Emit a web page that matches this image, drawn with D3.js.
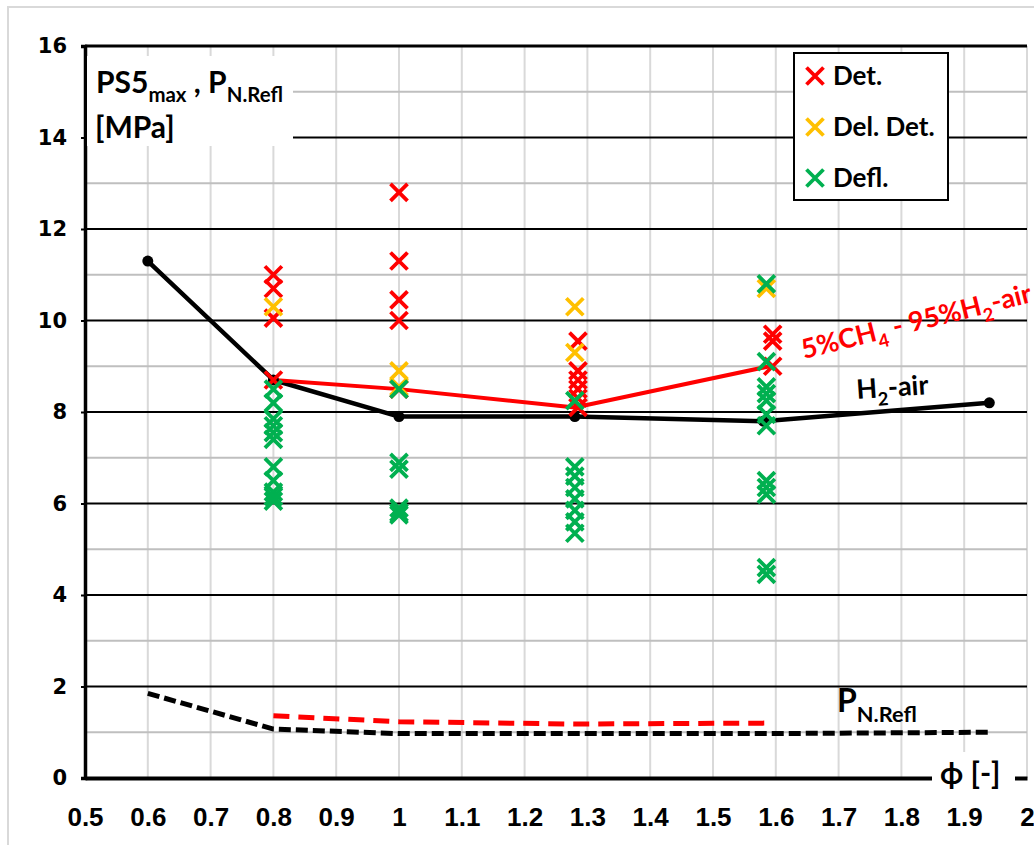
<!DOCTYPE html>
<html>
<head>
<meta charset="utf-8">
<script src="https://cdn.jsdelivr.net/npm/d3@7"></script>
<style>
  html, body { margin: 0; padding: 0; background: #fff; }
  svg { display: block; }
</style>
</head>
<body>
<div id="chart"></div>
<script>
// equivalence ratio ticks and pressure ticks
const phiTicks = d3.range(5, 21).map(d => d / 10);
const pTicks = d3.range(0, 17, 2);
const pMinor = d3.range(1, 16, 2);

// H2-air : peak pressure and normal reflected pressure
const h2Phi = [0.6, 0.8, 1.0, 1.28, 1.58, 1.94];
const h2Peak = [11.3, 8.7, 7.9, 7.9, 7.8, 8.2];
const h2Refl = [1.85, 1.07, 0.97, 0.97, 0.97, 1.0];

// 5%CH4 - 95%H2-air
const mixPhi = [0.8, 1.0, 1.28, 1.59];
const mixPeak = [8.7, 8.5, 8.1, 9.0];
const mixRefl = [1.36, 1.23, 1.18, 1.2];

// single shots [phi, PS5max]
const detPoints = [
  [0.8, 11.0], [0.8, 10.7], [0.8, 10.05], [0.8, 8.7],
  [1.0, 12.8], [1.0, 11.3], [1.0, 10.45], [1.0, 10.0], [1.0, 8.5],
  [1.285, 9.55], [1.285, 8.9], [1.285, 8.7], [1.285, 8.5], [1.285, 8.3], [1.285, 8.1],
  [1.595, 9.7], [1.595, 9.55], [1.595, 9.0]
];
const delDetPoints = [
  [0.8, 10.3], [1.0, 8.9], [1.0, 8.55], [1.28, 10.3], [1.28, 9.3], [1.585, 10.7]
];
const deflPoints = [
  [0.8, 8.5], [0.8, 8.2], [0.8, 7.85], [0.8, 7.7], [0.8, 7.55], [0.8, 7.4],
  [0.8, 6.8], [0.8, 6.5], [0.8, 6.25], [0.8, 6.15], [0.8, 6.05],
  [1.0, 8.5], [1.0, 6.9], [1.0, 6.75], [1.0, 5.9], [1.0, 5.8], [1.0, 5.75],
  [1.28, 8.25], [1.28, 6.8], [1.28, 6.6], [1.28, 6.35], [1.28, 6.1], [1.28, 5.85], [1.28, 5.6], [1.28, 5.35],
  [1.585, 10.8], [1.585, 9.1], [1.585, 8.55], [1.585, 8.4], [1.585, 8.25], [1.585, 7.95], [1.585, 7.7],
  [1.585, 6.5], [1.585, 6.35], [1.585, 6.2], [1.585, 4.6], [1.585, 4.45]
];

const legendItems = [
  { label: 'Det.', color: '#ff0000' },
  { label: 'Del. Det.', color: '#ffc000' },
  { label: 'Defl.', color: '#00b050' }
];

const W = 1034, H = 845;
const TXT = 'Lato, "Open Sans", sans-serif';

const svg = d3.select('#chart').append('svg')
  .attr('width', W)
  .attr('height', H);

// chart area border
svg.append('rect')
  .attr('x', 8).attr('y', 7)
  .attr('width', W + 20).attr('height', H + 20)
  .attr('fill', '#fff')
  .attr('stroke', '#d9d9d9')
  .attr('stroke-width', 2);

const x = d3.scaleLinear().domain([0.5, 2]).range([85, 1027]);
const y = d3.scaleLinear().domain([0, 16]).range([778, 46]);

// grid
const grid = svg.append('g');
grid.selectAll('.vgrid')
  .data(phiTicks.slice(1))
  .enter().append('line')
  .attr('x1', d => x(d)).attr('x2', d => x(d))
  .attr('y1', y(16)).attr('y2', y(0))
  .attr('stroke', '#d9d9d9')
  .attr('stroke-width', 2);

grid.selectAll('.minor')
  .data(pMinor)
  .enter().append('line')
  .attr('x1', x(0.5)).attr('x2', x(2))
  .attr('y1', d => y(d)).attr('y2', d => y(d))
  .attr('stroke', '#bfbfbf')
  .attr('stroke-width', 2);

grid.selectAll('.major')
  .data(pTicks.filter(d => d > 0))
  .enter().append('line')
  .attr('x1', x(0.5)).attr('x2', x(2))
  .attr('y1', d => y(d)).attr('y2', d => y(d))
  .attr('stroke', '#000')
  .attr('stroke-width', d => d === 16 ? 3 : 2);

// axes
const yAxis = d3.axisLeft(y).tickValues(pTicks).tickSize(4).tickPadding(14);
svg.append('g')
  .attr('transform', `translate(${x(0.5)},0)`)
  .call(yAxis)
  .call(g => g.select('.domain').attr('stroke-width', 3.5))
  .call(g => g.selectAll('.tick line').attr('stroke-width', 2))
  .call(g => g.selectAll('text')
    .attr('font-family', '"DejaVu Sans", sans-serif')
    .attr('font-weight', 'bold')
    .attr('font-size', 21)
    .attr('fill', '#000'));

const xAxis = d3.axisBottom(x).tickValues(phiTicks).tickSize(0).tickPadding(30)
  .tickFormat(d => String(+d.toFixed(1)));
svg.append('g')
  .attr('transform', `translate(0,${y(0)})`)
  .call(xAxis)
  .call(g => g.select('.domain').attr('stroke-width', 4))
  .call(g => g.selectAll('text')
    .attr('font-family', '"Liberation Sans Narrow", "Liberation Sans", sans-serif')
    .attr('font-weight', 'bold')
    .attr('font-size', 26)
    .attr('fill', '#000'));

// text with subscripts
function richText(parent, parts, size, color) {
  const t = parent.append('text')
    .attr('font-family', TXT)
    .attr('font-weight', 'bold')
    .attr('font-size', size)
    .attr('fill', color);
  let shift = 0;
  parts.forEach(p => {
    const sub = p[1] ? size * 0.3 : 0;
    t.append('tspan')
      .attr('dy', sub - shift)
      .attr('font-size', p[1] ? size * 0.68 : size)
      .text(p[0]);
    shift = sub;
  });
  return t;
}

// y axis title
svg.append('rect')
  .attr('x', 87).attr('y', 56)
  .attr('width', 206).attr('height', 90)
  .attr('fill', '#fff');
richText(svg, [['PS5'], ['max', true], [' , P'], ['N.Refl', true]], 30, '#000')
  .attr('x', 96).attr('y', 93);
svg.append('text')
  .attr('x', 95).attr('y', 138)
  .attr('font-family', TXT)
  .attr('font-weight', 'bold')
  .attr('font-size', 30)
  .text('[MPa]');

// x axis title
svg.append('rect')
  .attr('x', 932).attr('y', 752)
  .attr('width', 83).attr('height', 36)
  .attr('fill', '#fff');
svg.append('text')
  .attr('x', 940).attr('y', 784)
  .attr('font-family', TXT)
  .attr('font-weight', 'bold')
  .attr('font-size', 30)
  .text('\u03d5 [-]');

// lines
const line = d3.line().x(d => x(d[0])).y(d => y(d[1]));
const lines = svg.append('g').attr('fill', 'none');

lines.append('path')
  .attr('d', line(d3.zip(h2Phi, h2Refl)))
  .attr('stroke', '#000').attr('stroke-width', 5)
  .attr('stroke-dasharray', '12,5');
lines.append('path')
  .attr('d', line(d3.zip(mixPhi, mixRefl)))
  .attr('stroke', '#ff0000').attr('stroke-width', 5)
  .attr('stroke-dasharray', '16,9');
lines.append('path')
  .attr('d', line(d3.zip(h2Phi, h2Peak)))
  .attr('stroke', '#000').attr('stroke-width', 4.5)
  .attr('stroke-linejoin', 'round');
svg.selectAll('.h2dot')
  .data(d3.zip(h2Phi, h2Peak))
  .enter().append('circle')
  .attr('cx', d => x(d[0])).attr('cy', d => y(d[1]))
  .attr('r', 5.5).attr('fill', '#000');
lines.append('path')
  .attr('d', line(d3.zip(mixPhi, mixPeak)))
  .attr('stroke', '#ff0000').attr('stroke-width', 4)
  .attr('stroke-linejoin', 'round');

// x markers
const cross = 'M-8.5,-8.5L8.5,8.5M-8.5,8.5L8.5,-8.5';
function drawCrosses(data, color) {
  svg.append('g').selectAll('path')
    .data(data)
    .enter().append('path')
    .attr('transform', d => `translate(${x(d[0])},${y(d[1])})`)
    .attr('d', cross)
    .attr('stroke', color)
    .attr('stroke-width', 3.8)
    .attr('fill', 'none');
}
drawCrosses(detPoints, legendItems[0].color);
drawCrosses(delDetPoints, legendItems[1].color);
drawCrosses(deflPoints, legendItems[2].color);

// annotations
richText(svg, [['H'], ['2', true], ['-air']], 27, '#000')
  .attr('transform', 'translate(857,399) rotate(-4)');
richText(svg, [['5%CH'], ['4', true], [' - 95%H'], ['2', true], ['-air']], 27, '#ff0000')
  .attr('transform', 'translate(804,359) rotate(-14)');
richText(svg, [['P'], ['N.Refl', true]], 32, '#000')
  .attr('x', 837).attr('y', 712);

// legend
const legend = svg.append('g');
legend.append('rect')
  .attr('x', 794).attr('y', 53)
  .attr('width', 154).attr('height', 147)
  .attr('fill', '#fff')
  .attr('stroke', '#000')
  .attr('stroke-width', 2);
const li = legend.selectAll('.item')
  .data(legendItems)
  .enter().append('g')
  .attr('transform', (d, i) => `translate(815,${76 + i * 51})`);
li.append('path')
  .attr('d', cross)
  .attr('stroke', d => d.color)
  .attr('stroke-width', 3.8);
li.append('text')
  .attr('x', 18).attr('y', 9)
  .attr('font-family', TXT)
  .attr('font-weight', 'bold')
  .attr('font-size', 26)
  .text(d => d.label);
</script>
</body>
</html>
